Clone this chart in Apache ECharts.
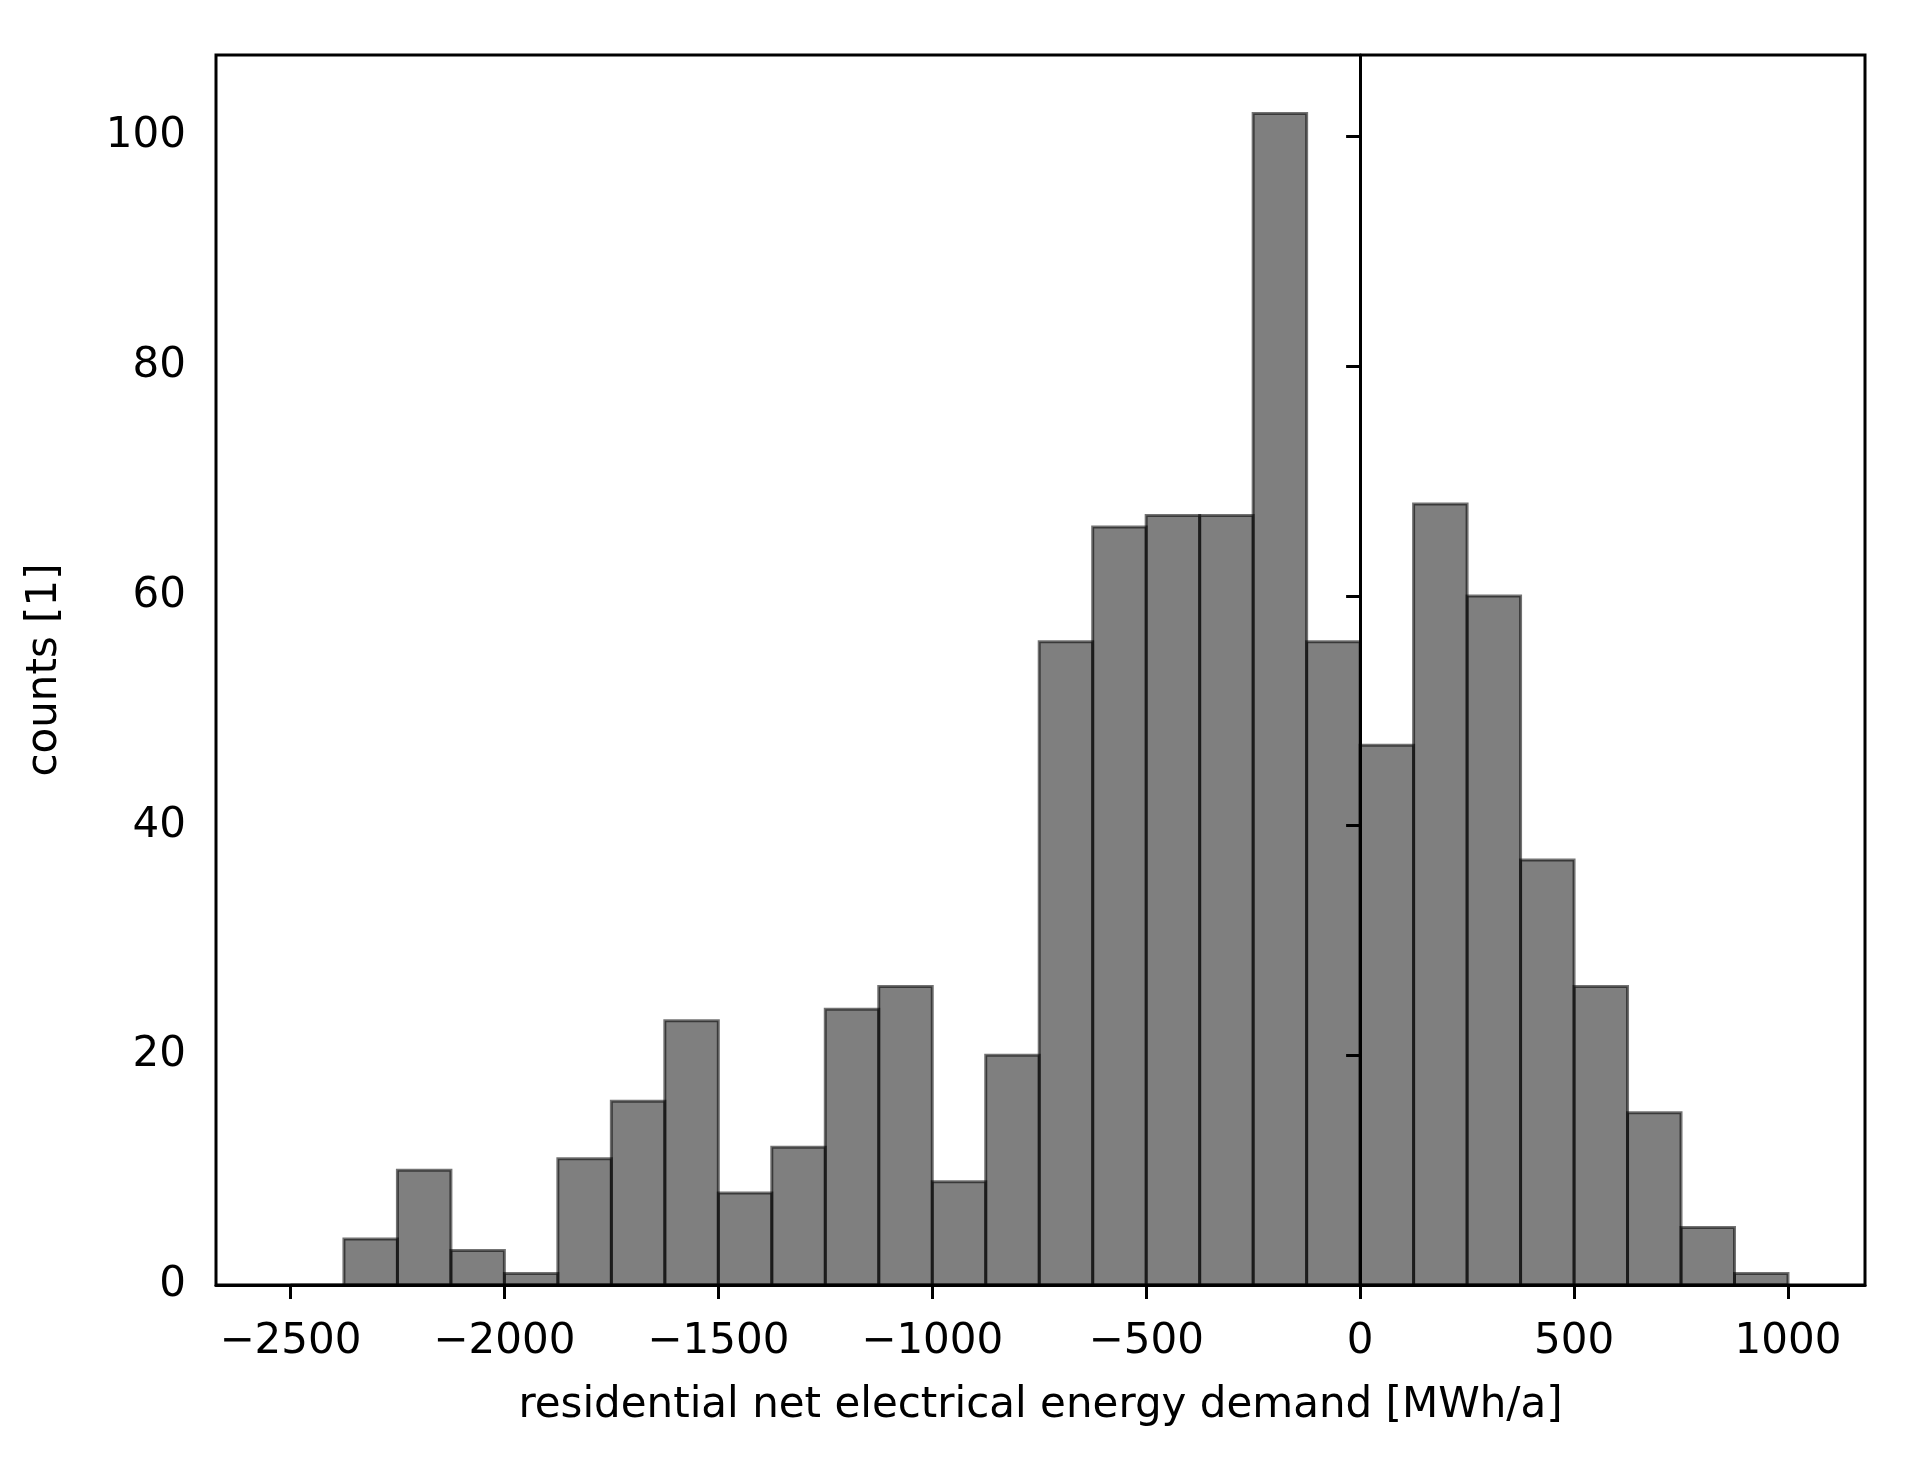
<!DOCTYPE html>
<html>
<head>
<meta charset="utf-8">
<script src="https://cdn.jsdelivr.net/npm/echarts@6/dist/echarts.min.js"></script>
<style>html,body{margin:0;padding:0;background:#fff}#chart{width:1915px;height:1462px}</style>
</head>
<body>
<div id="chart"></div>
<script>
// histogram bins (width 125 MWh/a) starting at -2500
const binStart = -2500;
const binWidth = 125;
const counts = [0, 4, 10, 3, 1, 11, 16, 23, 8, 12, 24, 26, 9, 20, 56, 66, 67, 67, 102, 56, 47, 68, 60, 37, 26, 15, 5, 1];
const xTicks = [-2500, -2000, -1500, -1000, -500, 0, 500, 1000];
const yTicks = [0, 20, 40, 60, 80, 100];

const data = counts.map((c, i) => [binStart + i * binWidth, binStart + (i + 1) * binWidth, c]);
const font = 'DejaVu Sans';

const chart = echarts.init(document.getElementById('chart'), null, { renderer: 'canvas' });
chart.setOption({
    animation: false,
    grid: { left: 216, right: 50, top: 55, bottom: 177 },
    xAxis: {
        type: 'value', min: -2674, max: 1180,
        name: 'residential net electrical energy demand [MWh/a]',
        nameLocation: 'middle', nameGap: 100,
        nameTextStyle: { fontFamily: font, fontSize: 42, color: '#000' },
        axisLine: { show: true, onZero: false, lineStyle: { color: '#000', width: 3 } },
        axisTick: { show: true, customValues: xTicks, length: 14, lineStyle: { color: '#000', width: 3 } },
        axisLabel: { customValues: xTicks, margin: 36, fontFamily: font, fontSize: 42, color: '#000',
            formatter: v => String(v).replace('-', '\u2212') },
        splitLine: { show: false }
    },
    yAxis: {
        type: 'value', min: 0, max: 107.1,
        name: 'counts [1]', nameLocation: 'middle', nameGap: 150, nameRotate: 90,
        nameTextStyle: { fontFamily: font, fontSize: 42, color: '#000' },
        axisLine: { show: true, lineStyle: { color: '#000', width: 3 } },
        axisTick: { show: true, customValues: yTicks, length: 14, lineStyle: { color: '#000', width: 3 } },
        axisLabel: { customValues: yTicks, margin: 30, fontFamily: font, fontSize: 42, color: '#000' },
        splitLine: { show: false }
    },
    series: [{
        type: 'custom',
        data: data,
        encode: { x: [0, 1], y: 2 },
        renderItem: function (params, api) {
            const p0 = api.coord([api.value(0), api.value(2)]);
            const p1 = api.coord([api.value(1), 0]);
            return {
                type: 'rect',
                shape: { x: p0[0], y: p0[1], width: p1[0] - p0[0], height: p1[1] - p0[1] },
                style: { fill: 'rgba(0,0,0,0.5)', stroke: 'rgba(0,0,0,0.55)', lineWidth: 3 }
            };
        }
    }, {
        // top/right frame
        type: 'line', data: [], markLine: { silent: true, symbol: 'none' }
    }],
    graphic: [{
        type: 'rect', shape: { x: 216, y: 55, width: 1915 - 216 - 50, height: 1462 - 55 - 177 },
        style: { fill: null, stroke: '#000', lineWidth: 3 }, z: 100
    }]
});
</script>
</body>
</html>
